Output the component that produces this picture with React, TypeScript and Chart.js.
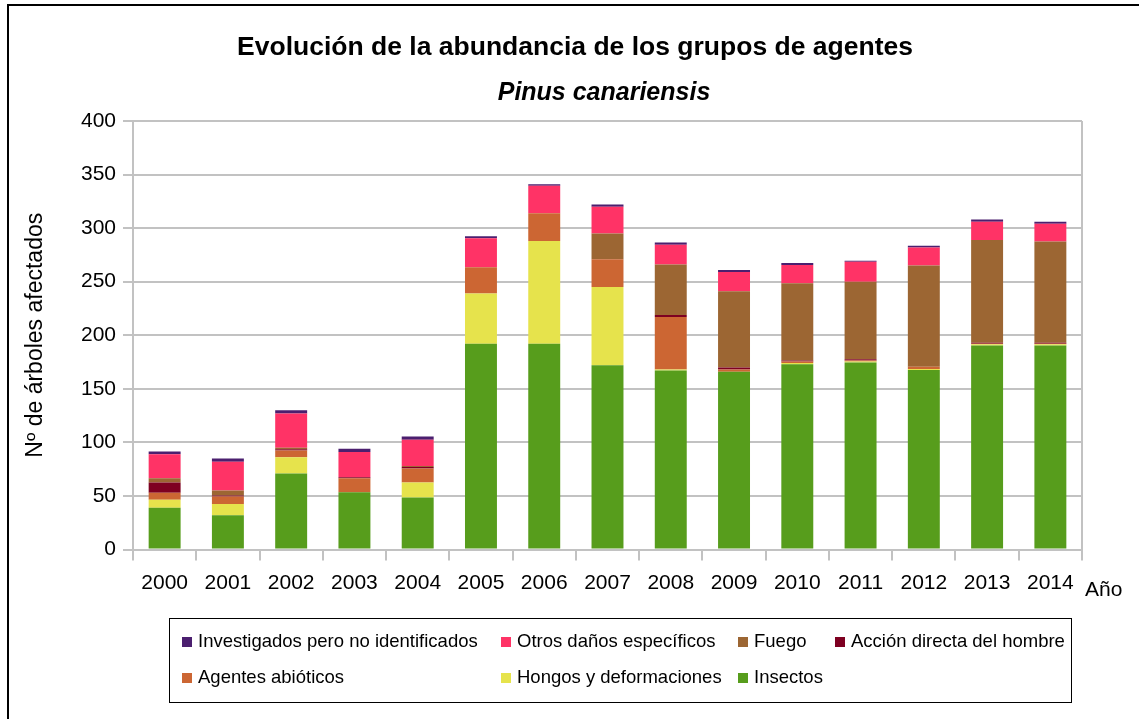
import React, { useEffect, useRef } from 'react';
import { Chart, registerables } from 'chart.js';

Chart.register(...registerables);

const years = ['2000', '2001', '2002', '2003', '2004', '2005', '2006', '2007', '2008', '2009', '2010', '2011', '2012', '2013', '2014'];

const insectos = [39, 32, 71, 53.5, 48.5, 192, 192, 172, 167, 166, 173, 174.5, 167.5, 190.5, 190.5];
const hongos = [7.5, 10.5, 15, 0, 14, 47, 96, 73, 1, 0, 1, 1, 1, 1, 1];
const agentes = [6.5, 7, 6.5, 13, 13, 24.5, 26, 26, 49, 2, 1.5, 1, 2, 0.5, 0.5];
const accion = [9.5, 1, 1, 1, 1.5, 0, 0, 0, 2, 2, 1, 1, 0, 1, 1];
const fuego = [4, 4.5, 1.5, 0, 1, 0, 0, 24, 47, 71, 72, 72.5, 94.5, 96, 94.5];
const otros = [22.5, 27, 32, 23.5, 24.5, 27, 25.5, 25, 18.5, 18, 17, 18.5, 17, 17, 16.5];
const investigados = [2.5, 3, 3, 3, 3, 2, 1.5, 2, 2, 2, 2, 1, 1.5, 2, 2];

const seriesLabels = [
  'Insectos',
  'Hongos y deformaciones',
  'Agentes abióticos',
  'Acción directa del hombre',
  'Fuego',
  'Otros daños específicos',
  'Investigados pero no identificados',
];
const seriesData = [insectos, hongos, agentes, accion, fuego, otros, investigados];
const seriesColors = ['#579d1c', '#e6e34c', '#cc6633', '#7e0021', '#9c6633', '#ff3366', '#4b1f6f'];

const titleText = 'Evolución de la abundancia de los grupos de agentes';
const subtitleText = 'Pinus canariensis';
const yTitle = 'Nº de árboles afectados';
const xTitle = 'Año';

const FONT = '"Liberation Sans", Arial, sans-serif';
const GRID = '#c2c2c2';

// legend layout (order: reversed stack order)
const legendSquareX = [182, 501, 738, 835, 182, 501, 738];
const legendRowY = [642, 678];
const legendRow = [0, 0, 0, 0, 1, 1, 1];

const decor = {
  id: 'decor',
  beforeDraw(chart: any) {
    const ctx = chart.ctx;
    ctx.save();
    ctx.fillStyle = '#ffffff';
    ctx.fillRect(0, 0, chart.width, chart.height);
    ctx.fillStyle = '#000000';
    ctx.fillRect(7, 4, 2, chart.height);
    ctx.fillRect(7, 4, chart.width, 2);
    ctx.restore();
  },
  afterDraw(chart: any) {
    const ctx = chart.ctx;
    const area = chart.chartArea;
    ctx.save();
    // right border of plot
    ctx.strokeStyle = GRID;
    ctx.lineWidth = 2;
    ctx.beginPath();
    ctx.moveTo(area.right, area.top);
    ctx.lineTo(area.right, area.bottom);
    ctx.stroke();

    ctx.fillStyle = '#000';
    ctx.textAlign = 'center';
    ctx.textBaseline = 'middle';
    ctx.font = `bold 26.5px ${FONT}`;
    ctx.fillText(titleText, 575, 48);
    ctx.font = `italic bold 25px ${FONT}`;
    ctx.fillText(subtitleText, 604, 93);

    ctx.textAlign = 'left';
    ctx.font = `21px ${FONT}`;
    ctx.fillText(xTitle, 1085, 590);

    // legend
    ctx.strokeStyle = '#000';
    ctx.lineWidth = 1;
    ctx.strokeRect(169.5, 618.5, 902, 84);
    const ds = chart.data.datasets.slice().reverse();
    ctx.font = `18.5px ${FONT}`;
    ds.forEach((d: any, i: number) => {
      const x = legendSquareX[i];
      const y = legendRowY[legendRow[i]];
      ctx.fillStyle = d.backgroundColor;
      ctx.fillRect(x, y - 5, 10, 10);
      ctx.fillStyle = '#000';
      ctx.fillText(d.label, x + 16, y);
    });
    ctx.restore();
  },
};

export default function App() {
  const ref = useRef<HTMLCanvasElement>(null);
  useEffect(() => {
    const chart = new Chart(ref.current as HTMLCanvasElement, {
      type: 'bar',
      data: {
        labels: years,
        datasets: seriesLabels.map((label, i) => ({
          label,
          data: seriesData[i],
          backgroundColor: seriesColors[i],
          borderWidth: 0,
          barPercentage: 0.505,
          categoryPercentage: 1,
        })),
      },
      options: {
        responsive: false,
        animation: false,
        layout: { padding: { left: 0, top: 121, right: 57, bottom: 109.5 } },
        plugins: {
          legend: { display: false },
          title: { display: false },
          tooltip: { enabled: false },
        },
        scales: {
          x: {
            stacked: true,
            grid: { drawOnChartArea: false, drawTicks: true, tickLength: 11, color: GRID, lineWidth: 2 },
            border: { color: GRID, width: 2 },
            ticks: { color: '#000', font: { family: FONT, size: 21 }, padding: 10 },
            afterFit: (s: any) => { s.height = 60; },
          },
          y: {
            stacked: true,
            min: 0,
            max: 400,
            ticks: { stepSize: 50, color: '#000', font: { family: FONT, size: 21 }, padding: 7 },
            grid: { color: GRID, lineWidth: 2, tickLength: 10 },
            border: { color: GRID, width: 2 },
            title: {
              display: true,
              text: yTitle,
              color: '#000',
              font: { family: FONT, size: 23 },
              padding: { top: 22, bottom: 0 },
            },
            afterFit: (s: any) => { s.width = 133; },
          },
        },
      } as any,
      plugins: [decor],
    });
    return () => chart.destroy();
  }, []);
  return (
    <div style={{ position: 'absolute', left: 0, top: 0, width: 1139, height: 719 }}>
      <canvas ref={ref} width={1139} height={719} style={{ display: 'block' }} />
    </div>
  );
}
